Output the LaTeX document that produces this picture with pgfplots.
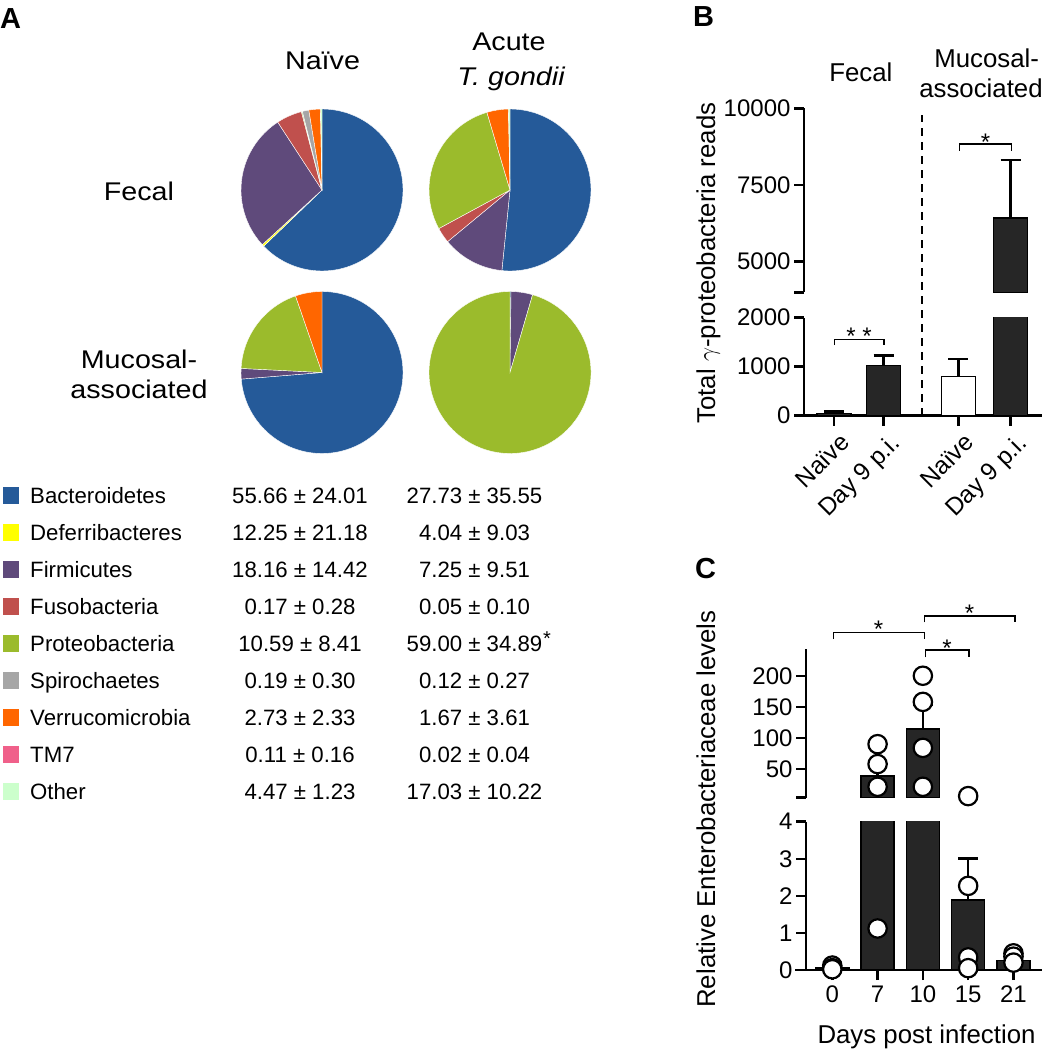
\documentclass[border=0pt]{standalone}
\usepackage{pgfplots}
\pgfplotsset{compat=1.18}
\usepackage{fontspec}
\setmainfont{Liberation Sans}
\newfontfamily\widefont[FakeStretch=1.12]{Liberation Sans}
\newcommand\fs[1]{\fontsize{#1}{#1}\selectfont}
\definecolor{cBact}{HTML}{255A99}
\definecolor{cDef}{HTML}{FFFF00}
\definecolor{cFirm}{HTML}{5F4A7B}
\definecolor{cFuso}{HTML}{C0504D}
\definecolor{cProt}{HTML}{9BBB2C}
\definecolor{cSpir}{HTML}{A6A6A6}
\definecolor{cVerr}{HTML}{FF6600}
\definecolor{cTM}{HTML}{F0608A}
\definecolor{cOth}{HTML}{CCFFCC}
\definecolor{barc}{HTML}{262626}
\newcommand\wedgeP[5]{\fill[#5, draw=white, line width=0.4pt] (axis cs:#1,#2) -- ++({90-3.6*(#3)}:81pt) arc[start angle={90-3.6*(#3)}, end angle={90-3.6*(#4)}, radius=81pt] -- cycle;}
\pgfplotsset{
  brk/.style={scale only axis, scaled ticks=false,
    major tick length=10pt, tick style={line width=2.5pt, black},
    ticklabel style={font=\fs{24}}, clip mode=individual},
  noarrow/.style={axis line style={-, line width=2.5pt, black},
    every outer x axis line/.append style={-}, every outer y axis line/.append style={-},
    every inner x axis line/.append style={-}, every inner y axis line/.append style={-},
    xtick align=outside, ytick align=outside},
  barB/.style={ybar, bar width=34pt, bar shift=0pt, fill=barc, draw=black, line width=1.5pt},
  barC/.style={ybar, bar width=33pt, bar shift=0pt, fill=barc, draw=black, line width=1.5pt},
  errs/.style={/pgfplots/error bars/y dir=plus, /pgfplots/error bars/y explicit,
    /pgfplots/error bars/error mark=-,
    /pgfplots/error bars/error bar style={line width=2.6pt, black},
    /pgfplots/error bars/error mark options={rotate=90, line width=2.6pt, mark size=10pt, black}},
  circ/.style={only marks, mark=*, mark size=9.2pt, mark options={fill=white, draw=black, line width=2.2pt}},
}
\begin{document}
\begin{tikzpicture}
\useasboundingbox (0pt,0pt) rectangle (1050pt,-1050pt);

% ---------- Panel A pies ----------
\begin{axis}[at={(0pt,-1050pt)}, anchor=south west, scale only axis, width=1050pt, height=1050pt,
  xmin=0, xmax=1050, ymin=-1050, ymax=0, hide axis, clip=false]
\addplot[draw=none, mark=none] coordinates {(0,0)};
% Fecal, naive
\wedgeP{322}{-190}{0}{62.8}{cBact}
\wedgeP{322}{-190}{62.8}{63.2}{cDef}
\wedgeP{322}{-190}{63.2}{90.8}{cFirm}
\wedgeP{322}{-190}{90.8}{95.9}{cFuso}
\wedgeP{322}{-190}{95.9}{96.1}{cProt}
\wedgeP{322}{-190}{96.1}{97.4}{cSpir}
\wedgeP{322}{-190}{97.4}{99.7}{cVerr}
\wedgeP{322}{-190}{99.7}{100}{cOth}
% Fecal, acute
\wedgeP{510}{-190}{0}{51.6}{cBact}
\wedgeP{510}{-190}{51.6}{64.0}{cFirm}
\wedgeP{510}{-190}{64.0}{67.1}{cFuso}
\wedgeP{510}{-190}{67.1}{95.4}{cProt}
\wedgeP{510}{-190}{95.4}{99.7}{cVerr}
\wedgeP{510}{-190}{99.7}{100}{cOth}
% Mucosal, naive
\wedgeP{322}{-372.5}{0}{73.7}{cBact}
\wedgeP{322}{-372.5}{73.7}{75.8}{cFirm}
\wedgeP{322}{-372.5}{75.8}{94.7}{cProt}
\wedgeP{322}{-372.5}{94.7}{100}{cVerr}
% Mucosal, acute
\wedgeP{510}{-372.5}{0}{0.2}{cBact}
\wedgeP{510}{-372.5}{0.2}{4.5}{cFirm}
\wedgeP{510}{-372.5}{4.5}{100}{cProt}
\end{axis}

% ---------- Panel B ----------
\begin{axis}[brk, at={(804pt,-415.7pt)}, anchor=south west, width=238pt, height=98pt,
  xmin=-0.6, xmax=4.18, ymin=0, ymax=2000, restrict y to domain*=-100:2500,
  axis x line=bottom, axis y line=left, noarrow,
  xtick={0,1,2.5,3.55}, xticklabels={Naïve,Day 9 p.i.,Naïve,Day 9 p.i.},
  x tick label style={xshift=5pt, anchor=north east, rotate=45, inner sep=0pt, font=\fs{24.5}}, xticklabel shift=6pt,
  ytick={0,1000,2000}, yticklabels={0,1000,2000}]
\addplot[barB, errs] coordinates {(0,40) +- (0,40) (1,1020) +- (0,210)};
\addplot[barB, fill=white, errs] coordinates {(2.5,800) +- (0,360)};
\addplot[barB] coordinates {(3.55,6430)};
\end{axis}
\begin{axis}[brk, at={(804pt,-292.4pt)}, anchor=south west, width=238pt, height=184.1pt,
  xmin=-0.6, xmax=4.18, ymin=4000, ymax=10000,
  axis x line=none, axis y line=left, noarrow,
  ytick={4000,5000,7500,10000}, yticklabels={,5000,7500,10000}]
\addplot[barB, errs] coordinates {(3.55,6430) +- (0,1880)};
\end{axis}

% ---------- Panel C ----------
\begin{axis}[brk, at={(806pt,-970pt)}, anchor=south west, width=236pt, height=148.3pt,
  xmin=-0.58, xmax=4.63, ymin=0, ymax=4, restrict y to domain*=-1:5,
  axis x line=bottom, axis y line=left, noarrow,
  xtick={0,1,2,3,4}, xticklabels={0,7,10,15,21}, xticklabel shift=2pt,
  ytick={0,1,2,3,4}, yticklabels={0,1,2,3,4}]
\addplot[barC] coordinates {(0,0.06) (1,39) (2,114.5) (4,0.25)};
\addplot[barC, errs] coordinates {(3,1.89) +- (0,1.12)};
\addplot[circ] coordinates {(0,0.12) (0,0.05) (0,0.02) (1,1.12) (3,2.27) (3,0.34) (3,0.05) (4,0.45) (4,0.36) (4,0.2)};
\end{axis}
\begin{axis}[brk, at={(806pt,-797.7pt)}, anchor=south west, width=236pt, height=148.7pt,
  xmin=-0.58, xmax=4.63, ymin=3.9, ymax=243,
  axis x line=none, axis y line=left, noarrow,
  ytick={3.9,50,100,150,200}, yticklabels={,50,100,150,200}]
\addplot[barC, errs] coordinates {(1,39) +- (0,19) (2,114.5) +- (0,38.5)};
\addplot[circ] coordinates {(1,90) (1,58) (1,21.5) (2,200) (2,158) (2,84) (2,21.5) (3,6.5)};
\end{axis}

\begin{scope}[x=1pt,y=1pt]
% axis overhangs
\draw[line width=2.5pt] (795,-415.7) -- (805,-415.7);
\draw[line width=2.5pt] (795,-970) -- (807,-970);
% ---------- annotations B ----------
\draw[line width=2pt, dash pattern=on 8pt off 6pt] (921.7,-415.7) -- (921.7,-115);
\draw[line width=1.3pt] (834.3,-345) -- (834.3,-339.3) -- (884,-339.3) -- (884,-345);
\node[anchor=base, inner sep=0, font=\fs{24}] at (859,-344) {* *};
\draw[line width=1.3pt] (959.3,-150.7) -- (959.3,-144) -- (1011.7,-144) -- (1011.7,-150.7);
\node[anchor=base, inner sep=0, font=\fs{24}] at (985.5,-150) {*};
\node[anchor=base, inner sep=0, font=\fs{25.8}] at (860.8,-81.7) {Fecal};
\node[anchor=base, inner sep=0, font=\fs{25.8}] at (986.7,-67) {Mucosal-};
\node[anchor=base, inner sep=0, font=\fs{25.8}] at (981,-97) {associated};
\node[rotate=90, anchor=base, inner sep=0, font=\fs{25.8}] at (715,-263) {Total $\gamma$-proteobacteria reads};

% ---------- annotations C ----------
\draw[line width=1.3pt] (833.3,-639) -- (833.3,-632.3) -- (924.3,-632.3) -- (924.3,-639);
\draw[line width=1.3pt] (924.3,-622.3) -- (924.3,-616) -- (1015,-616) -- (1015,-622.3);
\draw[line width=1.3pt] (925.7,-657.3) -- (925.7,-650) -- (969,-650) -- (969,-657.3);
\node[anchor=base, inner sep=0, font=\fs{24}] at (878.5,-637) {*};
\node[anchor=base, inner sep=0, font=\fs{24}] at (969.5,-621) {*};
\node[anchor=base, inner sep=0, font=\fs{24}] at (947,-656) {*};
\node[rotate=90, anchor=base, inner sep=0, font=\fs{25.8}] at (715,-809) {Relative Enterobacteriaceae levels};
\node[anchor=base, inner sep=0, font=\fs{25.8}] at (926.5,-1043.3) {Days post infection};

% ---------- panel letters ----------
\node[anchor=base west, inner sep=0, font=\fs{29}\bfseries] at (0,-28.3) {A};
\node[anchor=base west, inner sep=0, font=\fs{29}\bfseries] at (693,-26.7) {B};
\node[anchor=base west, inner sep=0, font=\fs{29}\bfseries] at (695,-578.3) {C};

% ---------- panel A text ----------
\node[anchor=base, inner sep=0, font=\widefont\fs{25.6}] at (322.5,-69) {Naïve};
\node[anchor=base, inner sep=0, font=\widefont\fs{25.6}] at (509,-50) {Acute};
\node[anchor=base, inner sep=0, font=\widefont\fs{25.6}] at (511,-85) {\itshape T. gondii};
\node[anchor=base, inner sep=0, font=\widefont\fs{25.6}] at (139,-200) {Fecal};
\node[anchor=base, inner sep=0, font=\widefont\fs{25.6}] at (139,-368) {Mucosal-};
\node[anchor=base, inner sep=0, font=\widefont\fs{25.6}] at (139,-398) {associated};

% ---------- legend ----------
\foreach \n/\c/\a/\b [count=\i from 0] in {
  Bacteroidetes/cBact/55.66 ± 24.01/27.73 ± 35.55,
  Deferribacteres/cDef/12.25 ± 21.18/4.04 ± 9.03,
  Firmicutes/cFirm/18.16 ± 14.42/7.25 ± 9.51,
  Fusobacteria/cFuso/0.17 ± 0.28/0.05 ± 0.10,
  Proteobacteria/cProt/10.59 ± 8.41/59.00 ± 34.89,
  Spirochaetes/cSpir/0.19 ± 0.30/0.12 ± 0.27,
  Verrucomicrobia/cVerr/2.73 ± 2.33/1.67 ± 3.61,
  TM7/cTM/0.11 ± 0.16/0.02 ± 0.04,
  Other/cOth/4.47 ± 1.23/17.03 ± 10.22}{
  \fill[\c] (2.7,{-487.2-37*\i}) rectangle (19.4,{-503.8-37*\i});
  \node[anchor=base west, inner sep=0, font=\fs{22.2}] at (30,{-503.3-37*\i}) {\n};
  \node[anchor=base, inner sep=0, font=\fs{22.2}] at (300,{-503.3-37*\i}) {\a};
  \node[anchor=base, inner sep=0, font=\fs{22.2}] at (474.5,{-503.3-37*\i}) {\b};
}
\node[anchor=base west, inner sep=0, font=\fs{20}] at (543,-645) {*};
\end{scope}
\end{tikzpicture}
\end{document}
